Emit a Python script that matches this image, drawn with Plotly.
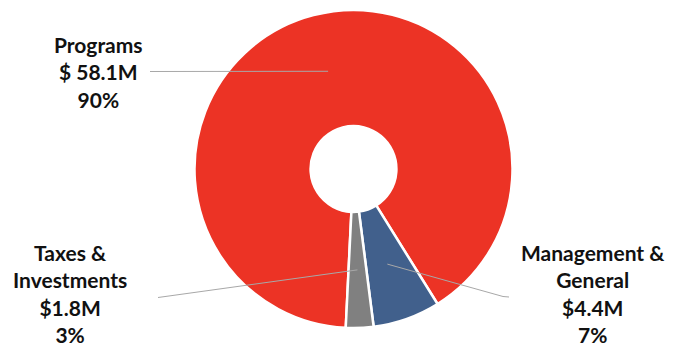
import math
import plotly.graph_objects as go

# ---- data ----
categories = ["Programs", "Management & General", "Taxes & Investments"]
values = [58.1, 4.4, 1.8]  # $M
name_lines = ["Programs", "Management &<br>General", "Taxes &<br>Investments"]
amount_labels = ["$ 58.1M", "$4.4M", "$1.8M"]
colors = ["#EC3325", "#41608C", "#808080"]

# ---- layout geometry (pixels) ----
W, H = 673, 348
cx, cy, R = 353.5, 169.0, 159.0
hole = 0.27
rotation = 182.8
# label box centres and leader-line text-side ends
label_pos = [(98, 72), (593, 293), (70, 293)]
line_ends = [[(150, 71.5)], [(503, 296.5), (509, 297)], [(158, 297.5)]]


def px(x, y):
    return x / W, 1 - y / H


fig = go.Figure(
    go.Pie(
        labels=categories,
        values=values,
        sort=False,
        direction="clockwise",
        rotation=rotation,
        hole=hole,
        marker=dict(colors=colors, line=dict(color="white", width=2.5)),
        textinfo="none",
        hoverinfo="label+value+percent",
        domain=dict(x=[(cx - R) / W, (cx + R) / W], y=[1 - (cy + R) / H, 1 - (cy - R) / H]),
        showlegend=False,
    )
)

total = sum(values)
cum = 0.0
r_mid = R * (1 + hole) / 2
shapes = []
annotations = []
for i, v in enumerate(values):
    mid = rotation + 360 * (cum + v / 2) / total
    cum += v
    a = math.radians(mid)
    ax_, ay_ = cx + r_mid * math.sin(a), cy - r_mid * math.cos(a)
    pts = [(ax_, ay_)] + line_ends[i]
    path = "M " + " L ".join(f"{px(x, y)[0]},{px(x, y)[1]}" for x, y in pts)
    shapes.append(dict(type="path", path=path, xref="paper", yref="paper",
                       line=dict(color="#A8A8A8", width=1)))
    pct = round(100 * v / total)
    lx, ly = px(*label_pos[i])
    annotations.append(dict(
        x=lx, y=ly, xref="paper", yref="paper", xanchor="center", yanchor="middle",
        align="center", showarrow=False,
        text=f"<b>{name_lines[i]}<br>{amount_labels[i]}<br>{pct}%</b>",
        font=dict(family="Lato", size=21, color="#111111"),
    ))

fig.update_layout(
    width=W, height=H,
    margin=dict(l=0, r=0, t=0, b=0),
    paper_bgcolor="white", plot_bgcolor="white",
    shapes=shapes, annotations=annotations,
)

fig.write_html("out.html")
